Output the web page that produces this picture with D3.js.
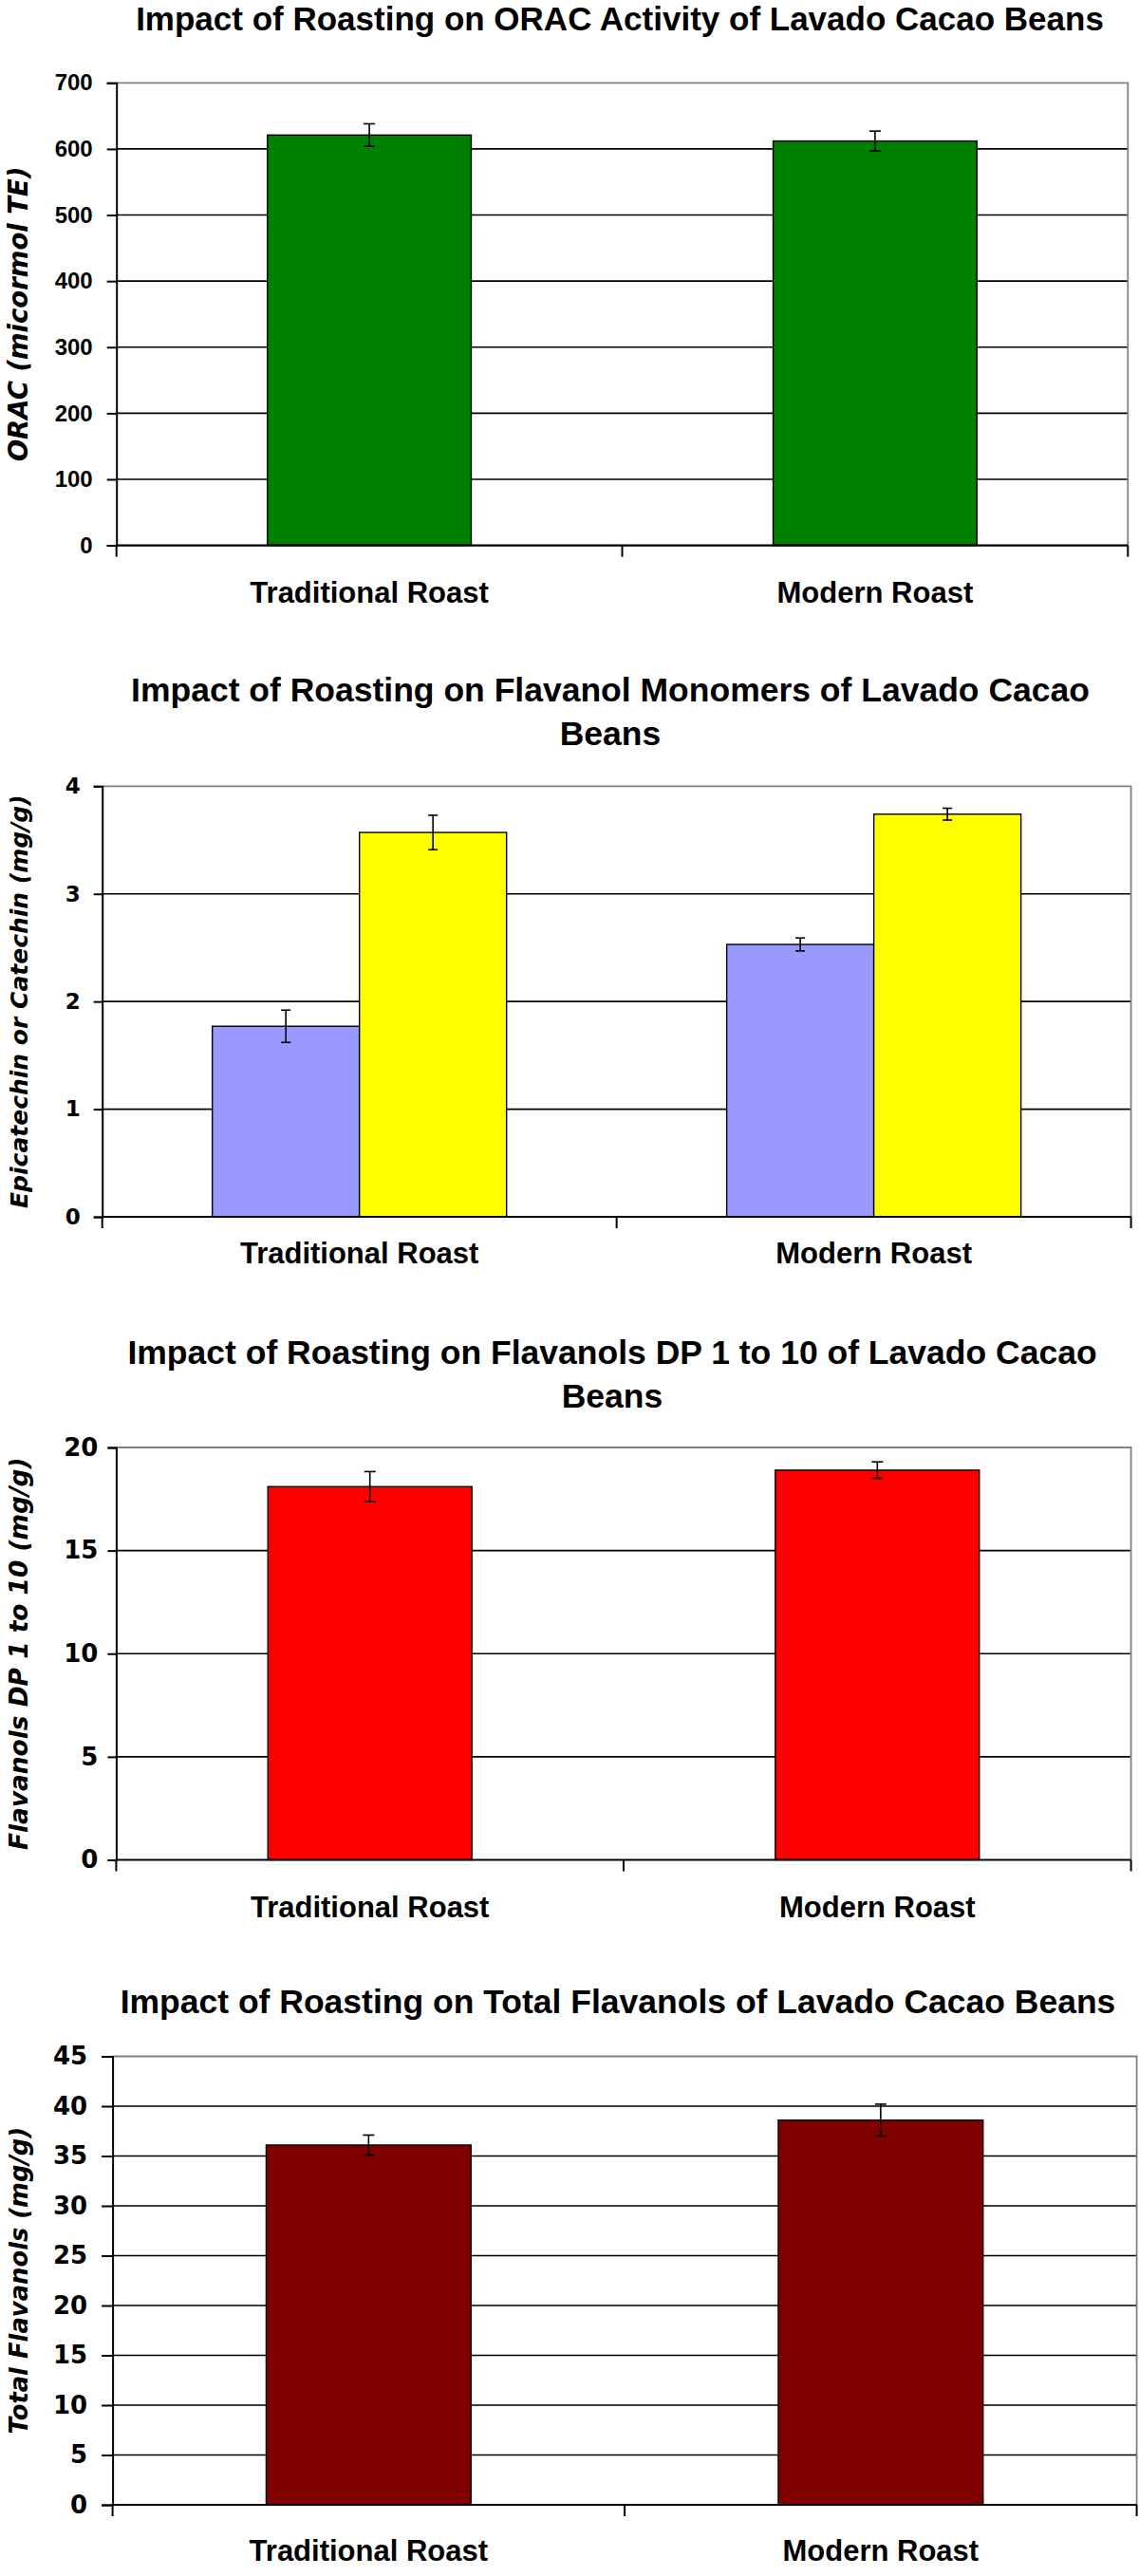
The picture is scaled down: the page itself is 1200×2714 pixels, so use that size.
<!DOCTYPE html>
<html>
<head>
<meta charset="utf-8">
<script src="https://cdn.jsdelivr.net/npm/d3@7"></script>
<style>
  html, body { margin: 0; padding: 0; background: #fff; }
  svg { display: block; }
</style>
</head>
<body>
<svg id="chart" width="1200" height="2714"></svg>
<script>
// ---------------- data ----------------
const categories = ["Traditional Roast", "Modern Roast"];

const oracValues = [621, 612];
const oracErrors = [17, 15];
const oracTicks = [0, 100, 200, 300, 400, 500, 600, 700];

const catechinValues = [1.77, 2.53];
const catechinErrors = [0.15, 0.06];
const epicatechinValues = [3.57, 3.74];
const epicatechinErrors = [0.16, 0.055];
const monomerTicks = [0, 1, 2, 3, 4];

const dp110Values = [18.1, 18.9];
const dp110Errors = [0.73, 0.4];
const dp110Ticks = [0, 5, 10, 15, 20];

const totalValues = [36.1, 38.6];
const totalErrors = [1.0, 1.6];
const totalTicks = [0, 5, 10, 15, 20, 25, 30, 35, 40, 45];

const titles = [
  ["Impact of Roasting on ORAC Activity of Lavado Cacao Beans"],
  ["Impact of Roasting on Flavanol Monomers of Lavado Cacao", "Beans"],
  ["Impact of Roasting on Flavanols DP 1 to 10 of Lavado Cacao", "Beans"],
  ["Impact of Roasting on Total Flavanols of Lavado Cacao Beans"]
];
const yLabels = [
  "ORAC (micormol TE)",
  "Epicatechin or Catechin (mg/g)",
  "Flavanols DP 1 to 10 (mg/g)",
  "Total Flavanols (mg/g)"
];

// ---------------- layout / style options ----------------
const charts = [
  { title: titles[0], yLabel: yLabels[0], ticks: oracTicks,
    series: [{ values: oracValues, errors: oracErrors, color: "#008000" }],
    left: 122.7, right: 1188.3, top: 87.3, bottom: 574.6,
    titleY: 32, titleX: 653, titleSize: 35, catY: 635, groupFrac: 0.403,
    tickFont: "'Liberation Sans', Arial, sans-serif", tickSize: 24, tickLen: 10, tickPad: 15,
    yLabelSize: 27.5, cap: 6 },
  { title: titles[1], yLabel: yLabels[1], ticks: monomerTicks,
    series: [{ values: catechinValues, errors: catechinErrors, color: "#9999FF" },
             { values: epicatechinValues, errors: epicatechinErrors, color: "#FFFF00" }],
    left: 107.7, right: 1191.6, top: 828.3, bottom: 1282,
    titleY: 739, titleX: 643, titleSize: 35.5, catY: 1331, groupFrac: 0.572,
    tickFont: "'DejaVu Sans', sans-serif", tickSize: 23, tickLen: 9, tickPad: 14,
    yLabelSize: 25, cap: 5 },
  { title: titles[2], yLabel: yLabels[2], ticks: dp110Ticks,
    series: [{ values: dp110Values, errors: dp110Errors, color: "#FF0000" }],
    left: 122.4, right: 1191.6, top: 1525, bottom: 1959.5,
    titleY: 1437, titleX: 645, titleSize: 35.5, catY: 2019.5, groupFrac: 0.402,
    tickFont: "'DejaVu Sans', sans-serif", tickSize: 26, tickLen: 9, tickPad: 10,
    yLabelSize: 26.4, cap: 6 },
  { title: titles[3], yLabel: yLabels[3], ticks: totalTicks,
    series: [{ values: totalValues, errors: totalErrors, color: "#800000" }],
    left: 118.6, right: 1197.6, top: 2166.5, bottom: 2639,
    titleY: 2120.5, titleX: 651, titleSize: 35.5, catY: 2698, groupFrac: 0.4,
    tickFont: "'DejaVu Sans', sans-serif", tickSize: 26, tickLen: 11.5, tickPad: 15,
    yLabelSize: 25.8, cap: 6 }
];

const svg = d3.select("#chart");
svg.append("rect").attr("width", 1200).attr("height", 2714).attr("fill", "#fff");

charts.forEach(c => {
  const g = svg.append("g");
  const maxV = c.ticks[c.ticks.length - 1];
  const x0 = d3.scaleBand().domain(categories).range([c.left, c.right]).padding(0);
  const groupW = x0.bandwidth() * c.groupFrac;
  const x1 = d3.scaleBand().domain(d3.range(c.series.length)).range([0, groupW]).padding(0);
  const y = d3.scaleLinear().domain([0, maxV]).range([c.bottom, c.top]);

  // title
  const t = g.append("text")
    .attr("x", c.titleX).attr("y", c.titleY)
    .attr("text-anchor", "middle")
    .attr("font-family", "'Liberation Sans', Arial, sans-serif")
    .attr("font-weight", "bold").attr("font-size", c.titleSize).attr("fill", "#000");
  c.title.forEach((line, i) => {
    t.append("tspan").attr("x", c.titleX).attr("dy", i === 0 ? 0 : 45.5).text(line);
  });

  // gridlines (excluding 0 and the max, which is the plot border)
  g.append("g").selectAll("line")
    .data(c.ticks.filter(v => v !== 0 && v !== maxV))
    .join("line")
    .attr("x1", c.left).attr("x2", c.right)
    .attr("y1", d => y(d)).attr("y2", d => y(d))
    .attr("stroke", "#000").attr("stroke-width", 1.6);

  // plot border top/right (gray)
  g.append("path")
    .attr("d", `M${c.left},${y(maxV)}H${c.right}V${c.bottom}`)
    .attr("fill", "none").attr("stroke", "#808080").attr("stroke-width", 1.8);

  // bars
  c.series.forEach((s, si) => {
    const bx = cat => x0(cat) + (x0.bandwidth() - groupW) / 2 + x1(si);
    g.append("g").selectAll("rect")
      .data(categories.map((cat, i) => ({ cat, v: s.values[i], e: s.errors[i] })))
      .join("rect")
      .attr("x", d => bx(d.cat))
      .attr("y", d => y(d.v))
      .attr("width", x1.bandwidth())
      .attr("height", d => y(0) - y(d.v))
      .attr("fill", s.color)
      .attr("stroke", "#000").attr("stroke-width", 1.4);
  });

  // error bars
  c.series.forEach((s, si) => {
    const cx = cat => x0(cat) + (x0.bandwidth() - groupW) / 2 + x1(si) + x1.bandwidth() / 2;
    const eg = g.append("g").attr("stroke", "#000").attr("stroke-width", 1.6);
    categories.forEach((cat, i) => {
      const xc = cx(cat), hi = y(s.values[i] + s.errors[i]), lo = y(s.values[i] - s.errors[i]);
      eg.append("line").attr("x1", xc).attr("x2", xc).attr("y1", hi).attr("y2", lo);
      eg.append("line").attr("x1", xc - c.cap).attr("x2", xc + c.cap).attr("y1", hi).attr("y2", hi);
      eg.append("line").attr("x1", xc - c.cap).attr("x2", xc + c.cap).attr("y1", lo).attr("y2", lo);
    });
  });

  // y axis
  const ya = g.append("g").attr("transform", `translate(${c.left},0)`)
    .call(d3.axisLeft(y).tickValues(c.ticks).tickSize(c.tickLen).tickPadding(c.tickPad).tickFormat(d3.format("d")));
  ya.select(".domain").attr("stroke", "#000").attr("stroke-width", 2);
  ya.selectAll(".tick line").attr("stroke", "#000").attr("stroke-width", 2);
  ya.selectAll(".tick text")
    .attr("font-family", c.tickFont).attr("font-weight", "bold")
    .attr("font-size", c.tickSize).attr("fill", "#000");

  // x axis line + boundary ticks
  g.append("line").attr("x1", c.left).attr("x2", c.right)
    .attr("y1", c.bottom).attr("y2", c.bottom)
    .attr("stroke", "#000").attr("stroke-width", 2.2);
  const bounds = categories.map(cat => x0(cat)).concat([c.right]);
  g.append("g").selectAll("line").data(bounds).join("line")
    .attr("x1", d => d).attr("x2", d => d)
    .attr("y1", c.bottom).attr("y2", c.bottom + 12)
    .attr("stroke", "#000").attr("stroke-width", 2);

  // category labels
  g.append("g").selectAll("text").data(categories).join("text")
    .attr("x", d => x0(d) + x0.bandwidth() / 2)
    .attr("y", c.catY)
    .attr("text-anchor", "middle")
    .attr("font-family", "'Liberation Sans', Arial, sans-serif")
    .attr("font-weight", "bold").attr("font-size", 31).attr("fill", "#000")
    .text(d => d);

  // y label
  const cy = (c.top + c.bottom) / 2;
  g.append("text")
    .attr("transform", `translate(29,${cy}) rotate(-90)`)
    .attr("text-anchor", "middle")
    .attr("font-family", "'DejaVu Sans', sans-serif")
    .attr("font-weight", "bold").attr("font-style", "italic")
    .attr("font-size", c.yLabelSize).attr("fill", "#000")
    .text(c.yLabel);
});
</script>
</body>
</html>
